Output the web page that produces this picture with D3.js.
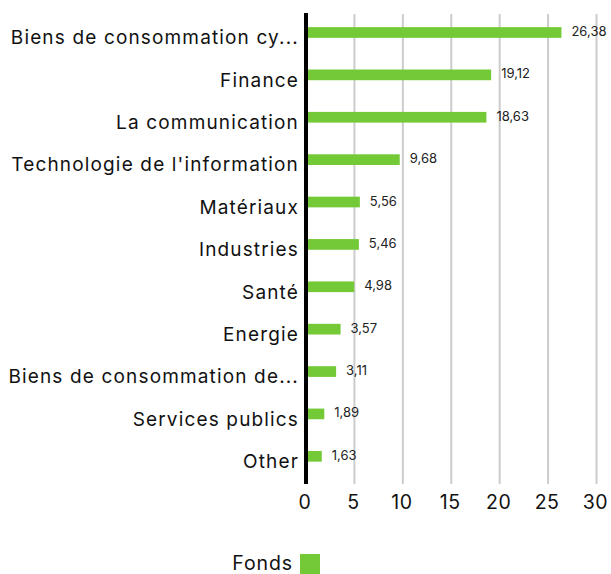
<!DOCTYPE html>
<html>
<head>
<meta charset="utf-8">
<script src="https://cdn.jsdelivr.net/npm/d3@7"></script>
<style>
  html, body { margin: 0; padding: 0; background: #fff; }
  svg { display: block; }
  text { font-family: Inter, "Noto Sans", sans-serif; }
</style>
</head>
<body>
<svg id="chart" width="611" height="574"></svg>
<script>
const categories = [
  "Biens de consommation cy...",
  "Finance",
  "La communication",
  "Technologie de l'information",
  "Matériaux",
  "Industries",
  "Santé",
  "Energie",
  "Biens de consommation de...",
  "Services publics",
  "Other"
];
const fondsValues = [26.38, 19.12, 18.63, 9.68, 5.56, 5.46, 4.98, 3.57, 3.11, 1.89, 1.63];
const valueLabels = ["26,38", "19,12", "18,63", "9,68", "5,56", "5,46", "4,98", "3,57", "3,11", "1,89", "1,63"];
const xTicks = [0, 5, 10, 15, 20, 25, 30];
const seriesName = "Fonds";

const svg = d3.select("#chart");
const green = "#74c936";

const x = d3.scaleLinear().domain([0, 30]).range([306, 596.5]);
const y = d3.scaleBand().domain(categories).range([11.3, 477.5]).paddingInner(0);
const barH = 10.7;
const plotTop = 14, plotBottom = 484;

// gridlines
svg.append("g").selectAll("line")
  .data(xTicks.filter(d => d > 0))
  .join("line")
  .attr("x1", d => x(d)).attr("x2", d => x(d))
  .attr("y1", plotTop).attr("y2", plotBottom)
  .attr("stroke", "#cccccc").attr("stroke-width", 2);

// bars
svg.append("g").selectAll("rect")
  .data(categories)
  .join("rect")
  .attr("x", x(0))
  .attr("y", (d) => y(d) + y.bandwidth() / 2 - barH / 2)
  .attr("width", (d, i) => x(fondsValues[i]) - x(0))
  .attr("height", barH)
  .attr("fill", green);

// value labels
svg.append("g").selectAll("text")
  .data(categories)
  .join("text")
  .attr("x", (d, i) => x(fondsValues[i]) + 10)
  .attr("y", d => y(d) + y.bandwidth() / 2 + 3.5)
  .attr("font-size", 13)
  .attr("fill", "#222")
  .text((d, i) => valueLabels[i]);

// zero axis line
svg.append("line")
  .attr("x1", x(0)).attr("x2", x(0))
  .attr("y1", 13).attr("y2", plotBottom)
  .attr("stroke", "#000").attr("stroke-width", 4);

// category labels
svg.append("g").selectAll("text")
  .data(categories)
  .join("text")
  .attr("x", 299)
  .attr("y", d => y(d) + y.bandwidth() / 2 + 11.8)
  .attr("text-anchor", "end")
  .attr("font-size", 19)
  .attr("letter-spacing", 1.15)
  .attr("fill", "#111")
  .text(d => d);

// x tick labels
svg.append("g").selectAll("text")
  .data(xTicks)
  .join("text")
  .attr("x", d => x(d) - 1)
  .attr("y", 509)
  .attr("text-anchor", "middle")
  .attr("font-size", 19.5)
  .attr("letter-spacing", 0.5)
  .attr("fill", "#111")
  .text(d => d);

// legend
const lg = svg.append("g");
lg.append("text")
  .attr("x", 293).attr("y", 570)
  .attr("text-anchor", "end")
  .attr("font-size", 19.5)
  .attr("letter-spacing", 0.9)
  .attr("fill", "#111")
  .text(seriesName);
lg.append("rect")
  .attr("x", 300).attr("y", 554)
  .attr("width", 20).attr("height", 20)
  .attr("fill", green);
</script>
</body>
</html>
